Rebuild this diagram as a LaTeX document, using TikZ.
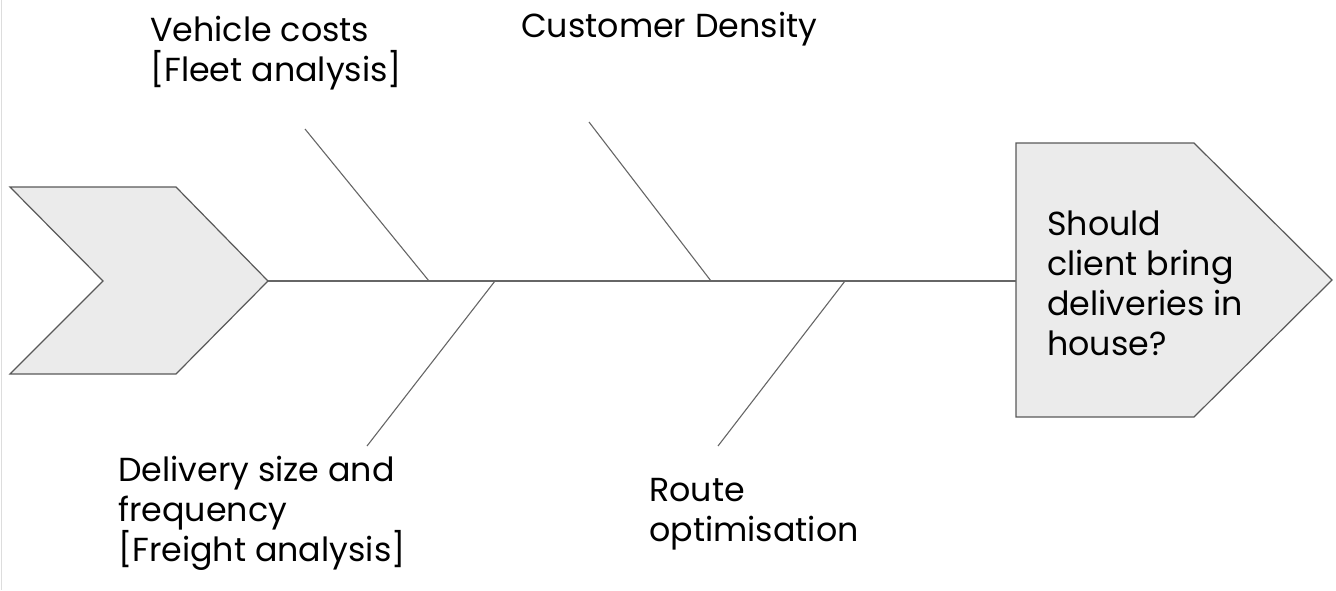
\documentclass[tikz,border=0pt]{standalone}
\usepackage{fontspec}
\setmainfont{Poppins}
\definecolor{shapefill}{HTML}{EBEBEB}
\definecolor{shapeline}{HTML}{595959}
\definecolor{boneline}{HTML}{666666}
\definecolor{edgeline}{HTML}{DDDDDD}
\begin{document}
\begin{tikzpicture}[x=1pt,y=-1pt,
  shapestyle/.style={fill=shapefill,draw=shapeline,line width=1.2pt,line join=miter},
  bonestyle/.style={draw=boneline,line width=1.1pt},
  labelstyle/.style={anchor=base west,inner sep=0pt,align=left,font=\fontsize{33.3}{40}\selectfont}]
\useasboundingbox (0,0) rectangle (1336,590);
\draw[edgeline,line width=1pt] (1,0) -- (1,590);
% head and tail
\draw[shapestyle] (10,187) -- (176,187) -- (268,281) -- (176,374) -- (10,374) -- (103,281) -- cycle;
\coordinate (tail) at (268,281);
\draw[shapestyle] (1016,143) -- (1194,143) -- (1332,280) -- (1194,417) -- (1016,417) -- cycle;
\coordinate (head) at (1016,281);
% spine
\draw[bonestyle] (tail) -- (head);
% bones
\coordinate (t1a) at (305,129); \coordinate (t1b) at (429,281);
\coordinate (b1a) at (367,446); \coordinate (b1b) at (495,281);
\coordinate (t2a) at (589,122); \coordinate (t2b) at (711,281);
\coordinate (b2a) at (718,446); \coordinate (b2b) at (845,281);
\draw[bonestyle] (t1a) -- (t1b);
\draw[bonestyle] (b1a) -- (b1b);
\draw[bonestyle] (t2a) -- (t2b);
\draw[bonestyle] (b2a) -- (b2b);
% labels (base anchor = baseline of the last line)
\node[labelstyle] (vehicle) at (150,81) {Vehicle costs\\{[Fleet analysis]}};
\node[labelstyle] (density) at (521,37) {Customer Density};
\node[labelstyle] (delivery) at (118,561) {Delivery size and\\frequency\\{[Freight analysis]}};
\node[labelstyle] (route) at (649,541) {Route\\optimisation};
\node[labelstyle] (question) at (1047,355) {Should\\client bring\\deliveries in\\house?};
\end{tikzpicture}
\end{document}
